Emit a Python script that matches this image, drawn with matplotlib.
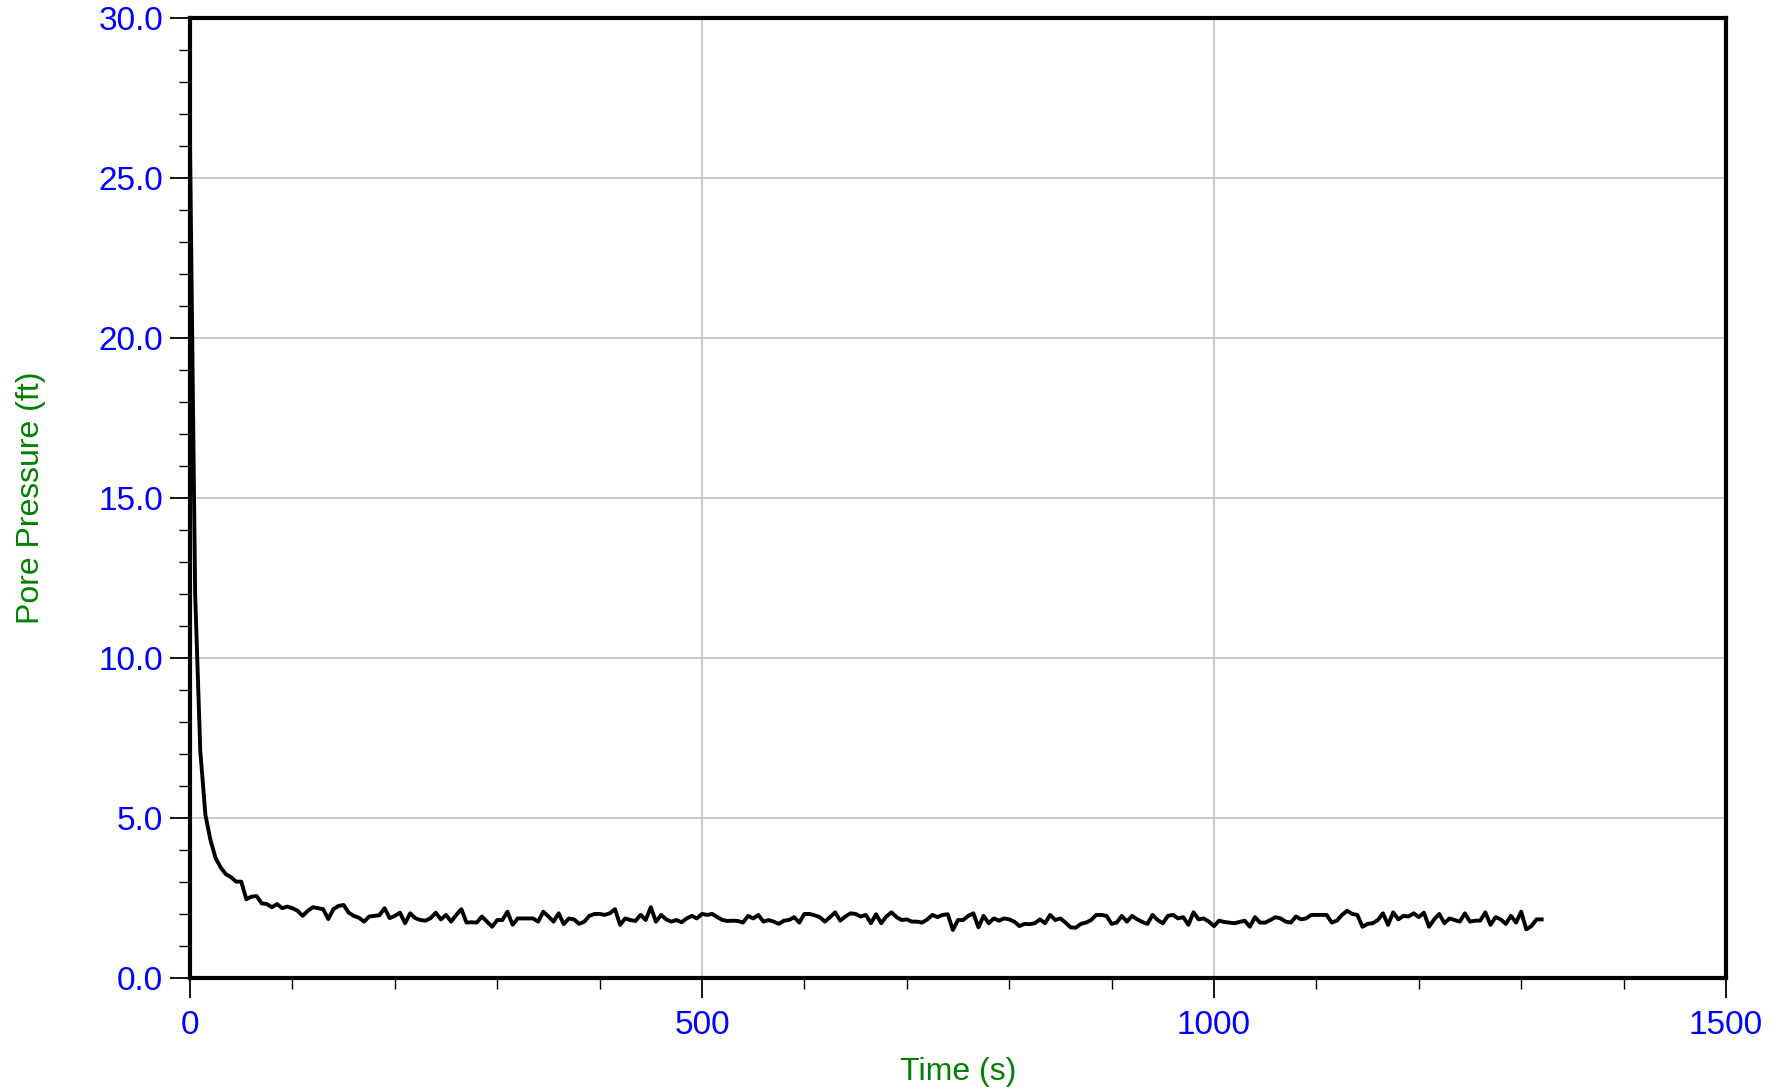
import numpy as np
import matplotlib
matplotlib.use("Agg")
import matplotlib.pyplot as plt
from matplotlib.ticker import MultipleLocator, FormatStrFormatter

# ==========================================
# 1. DATA (5 s sampling)
# ==========================================
SAMPLE_STEP_S = 5.0

pore_ft = [
    26.0, 12.0, 7.1, 5.1, 4.3, 3.74, 3.45, 3.24, 3.15, 3.01,
    3.01, 2.46, 2.54, 2.56, 2.33, 2.31, 2.21, 2.31, 2.18, 2.23,
    2.18, 2.10, 1.94, 2.10, 2.21, 2.18, 2.15, 1.84, 2.15, 2.25,
    2.28, 2.04, 1.94, 1.88, 1.76, 1.92, 1.94, 1.96, 2.18, 1.87,
    1.94, 2.04, 1.71, 2.02, 1.87, 1.81, 1.79, 1.87, 2.04, 1.83,
    # 250 s
    1.97, 1.76, 1.97, 2.15, 1.73, 1.74, 1.73, 1.92, 1.76, 1.60,
    1.81, 1.81, 2.07, 1.66, 1.86, 1.86, 1.86, 1.86, 1.76, 2.07,
    1.92, 1.76, 2.02, 1.68, 1.86, 1.83, 1.69, 1.76, 1.94, 2.00,
    2.00, 1.97, 2.02, 2.15, 1.66, 1.86, 1.81, 1.78, 1.97, 1.81,
    2.21, 1.76, 1.97, 1.83, 1.76, 1.81, 1.74, 1.86, 1.94, 1.86,
    # 500 s
    2.00, 1.97, 2.00, 1.90, 1.81, 1.78, 1.79, 1.78, 1.73, 1.94,
    1.86, 1.97, 1.76, 1.81, 1.76, 1.69, 1.79, 1.81, 1.90, 1.73,
    2.00, 2.00, 1.96, 1.90, 1.76, 1.90, 2.05, 1.79, 1.92, 2.02,
    2.00, 1.92, 1.97, 1.71, 1.99, 1.71, 1.92, 2.05, 1.90, 1.81,
    1.83, 1.76, 1.76, 1.73, 1.83, 1.97, 1.90, 1.97, 1.99, 1.50,
    # 750 s
    1.81, 1.81, 1.94, 2.02, 1.58, 1.94, 1.71, 1.86, 1.79, 1.86,
    1.83, 1.76, 1.62, 1.69, 1.68, 1.71, 1.83, 1.71, 1.97, 1.81,
    1.86, 1.73, 1.58, 1.57, 1.69, 1.73, 1.81, 1.97, 1.97, 1.94,
    1.69, 1.73, 1.94, 1.76, 1.94, 1.83, 1.75, 1.69, 1.97, 1.81,
    1.71, 1.94, 1.97, 1.86, 1.90, 1.66, 2.05, 1.83, 1.86, 1.76,
    # 1000 s
    1.62, 1.79, 1.75, 1.73, 1.71, 1.75, 1.79, 1.60, 1.90, 1.73,
    1.73, 1.81, 1.90, 1.86, 1.76, 1.73, 1.92, 1.83, 1.86, 1.97,
    1.97, 1.97, 1.97, 1.73, 1.79, 1.97, 2.10, 2.00, 1.97, 1.60,
    1.69, 1.71, 1.81, 2.02, 1.66, 2.05, 1.83, 1.94, 1.92, 2.02,
    1.90, 2.04, 1.60, 1.83, 2.00, 1.71, 1.86, 1.81, 1.76, 2.02,
    # 1250 s
    1.76, 1.79, 1.79, 2.05, 1.66, 1.90, 1.83, 1.69, 1.94, 1.73,
    2.07, 1.52, 1.62, 1.83, 1.83,
]
time_s = np.arange(len(pore_ft)) * SAMPLE_STEP_S

X_MAX = 1500
Y_MAX = 30.0

# ==========================================
# 2. PLOT
# ==========================================
plt.rcParams['font.family'] = ['Liberation Sans', 'DejaVu Sans']

fig = plt.figure(figsize=(17.81, 10.90), dpi=100)
ax = fig.add_axes([0.1067, 0.1028, 0.8624, 0.8807])

ax.plot(time_s, pore_ft, color='black', linewidth=2.8, zorder=3,
        solid_joinstyle='round')

ax.set_xlim(0, X_MAX)
ax.set_ylim(0, Y_MAX)

ax.xaxis.set_major_locator(MultipleLocator(500))
ax.xaxis.set_minor_locator(MultipleLocator(100))
ax.yaxis.set_major_locator(MultipleLocator(5))
ax.yaxis.set_minor_locator(MultipleLocator(1))
ax.yaxis.set_major_formatter(FormatStrFormatter('%.1f'))

ax.grid(True, which='major', color='#c0c0c0', linewidth=1.2, zorder=0)
ax.set_axisbelow(True)

for side in ['left', 'right', 'top', 'bottom']:
    ax.spines[side].set_linewidth(3.0)
    ax.spines[side].set_color('black')

ax.tick_params(axis='both', which='major', direction='out', length=14.4,
               width=1.3, labelsize=24, labelcolor='#0000ff')
ax.tick_params(axis='both', which='minor', direction='out', length=8,
               width=1.0)
ax.tick_params(axis='y', which='major', pad=5)
ax.tick_params(axis='x', which='major', pad=9)

ax.set_xlabel('Time (s)', fontsize=23, color='#008000', labelpad=11)
ax.set_ylabel('Pore Pressure (ft)', fontsize=23, color='#008000', labelpad=38)

fig.savefig('out.png', dpi=100)
